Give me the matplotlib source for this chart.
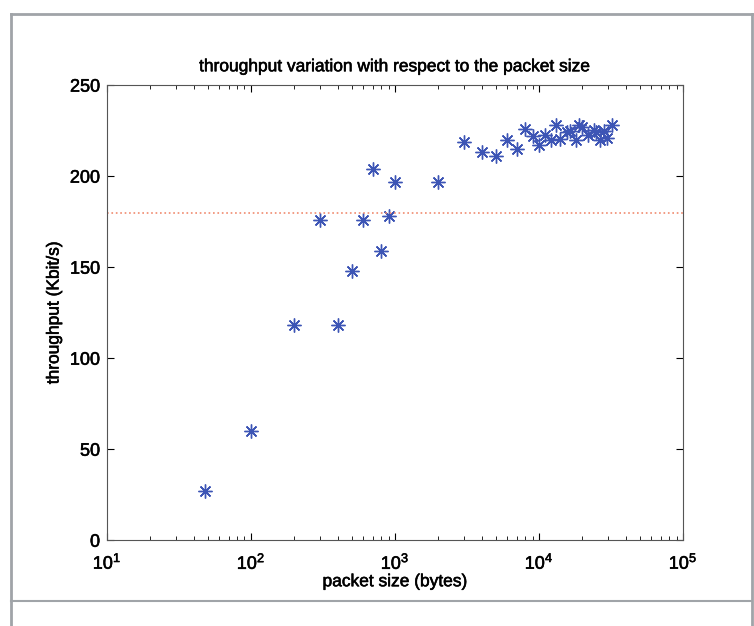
import matplotlib
matplotlib.use('Agg')
import matplotlib.pyplot as plt
import matplotlib.patheffects as pe
from matplotlib.lines import Line2D

plt.rcParams['font.family'] = ['Liberation Sans', 'DejaVu Sans']
plt.rcParams['mathtext.fontset'] = 'custom'
plt.rcParams['mathtext.rm'] = 'Liberation Sans'

# packet size (bytes) and measured throughput (Kbit/s)
packet_size = [48, 100, 200, 300, 400, 500, 600, 700, 800, 900, 1000,
               2000, 3000, 4000, 5000, 6000, 7000, 8000, 9000, 10000,
               11000, 12000, 13000, 14000, 15500, 16500, 18000, 19000,
               20000, 22000, 24000, 25000, 26500, 28000, 29500, 32000]
throughput = [27, 60, 118, 176, 118, 148, 176, 204, 159, 178, 197,
              197, 218.5, 213, 211, 220, 215, 226, 222, 217,
              222.5, 220, 228, 220.5, 224, 225, 220, 228,
              227, 222.5, 225.5, 224, 220, 225, 221, 228]
threshold = 180

heavy = [pe.withStroke(linewidth=0.4, foreground='black')]

fig = plt.figure(figsize=(7.54, 6.26), dpi=100)
ax = fig.add_axes([0.142, 0.137, 0.764, 0.727])

ax.plot(packet_size, throughput, linestyle='none', marker=(8, 2, 0),
        markersize=10, markeredgewidth=1.0, color='#3d55b5')
ax.plot([10, 1e5], [threshold, threshold], linestyle=':', color='#f08a6e',
        linewidth=1.2)

ax.set_xscale('log')
ax.set_xlim(10, 1e5)
ax.set_ylim(0, 250)
ax.set_yticks([0, 50, 100, 150, 200, 250])
ax.tick_params(which='both', direction='in', top=True, right=True,
               labelsize=13)
ax.tick_params(which='major', length=5)
ax.tick_params(which='minor', length=3)
ax.tick_params(axis='x', pad=9)
ax.tick_params(axis='y', pad=5)
for lab in ax.get_xticklabels() + ax.get_yticklabels():
    lab.set_path_effects(heavy)
for sp in ax.spines.values():
    sp.set_color('#555555')

ax.set_title('throughput variation with respect to the packet size',
             fontsize=12.5, pad=10, path_effects=heavy)
ax.set_xlabel('packet size (bytes)', fontsize=12.5, labelpad=1,
              path_effects=heavy)
ax.set_ylabel('throughput (Kbit/s)', fontsize=12.5, labelpad=6,
              path_effects=heavy)

# grey frame around the figure
frame_color = '#a0a4a8'
fig.add_artist(Line2D([0.014, 0.014], [0.0, 0.978], color=frame_color, lw=2))
fig.add_artist(Line2D([0.014, 0.997], [0.978, 0.978], color=frame_color, lw=2))
fig.add_artist(Line2D([0.014, 0.997], [0.040, 0.040], color=frame_color, lw=1.5))
fig.add_artist(Line2D([0.997, 0.997], [0.0, 0.978], color=frame_color, lw=2))

fig.savefig('out.png', dpi=100)
